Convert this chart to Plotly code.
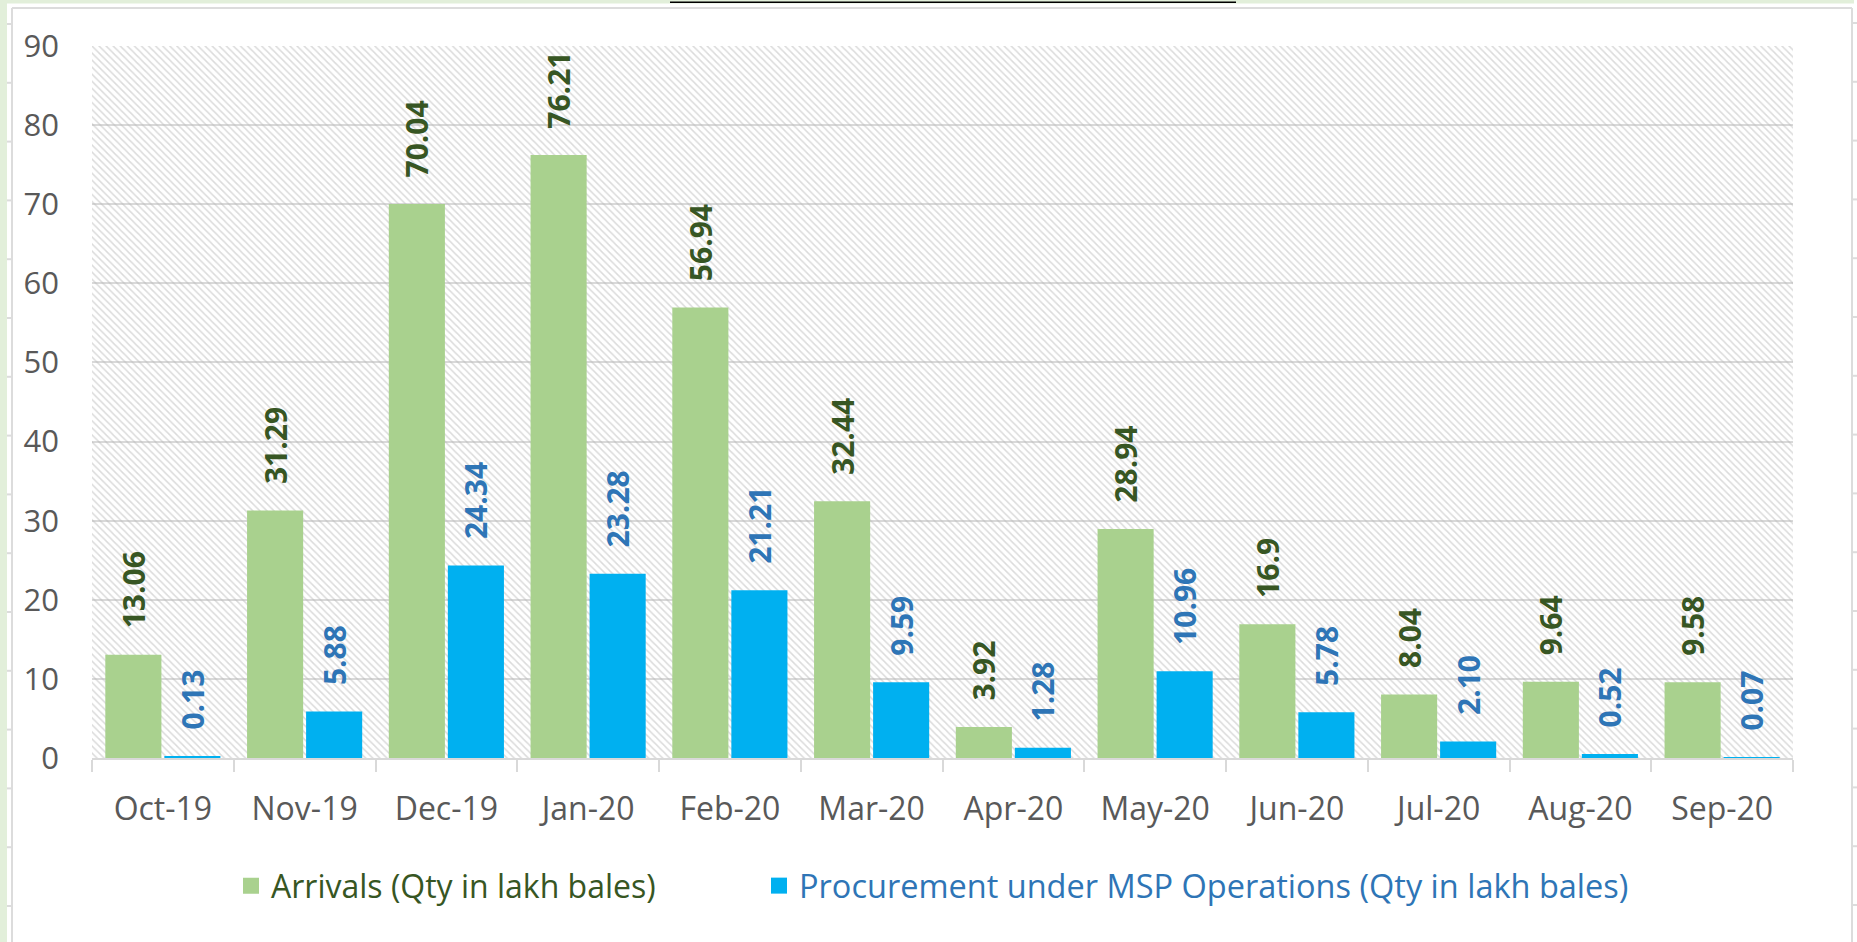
import plotly.graph_objects as go

# ---------------- data ----------------
months = ["Oct-19", "Nov-19", "Dec-19", "Jan-20", "Feb-20", "Mar-20",
          "Apr-20", "May-20", "Jun-20", "Jul-20", "Aug-20", "Sep-20"]
arrivals = [13.06, 31.29, 70.04, 76.21, 56.94, 32.44, 3.92, 28.94, 16.9, 8.04, 9.64, 9.58]
procurement = [0.13, 5.88, 24.34, 23.28, 21.21, 9.59, 1.28, 10.96, 5.78, 2.10, 0.52, 0.07]
arrivals_labels = ["13.06", "31.29", "70.04", "76.21", "56.94", "32.44",
                   "3.92", "28.94", "16.9", "8.04", "9.64", "9.58"]
procurement_labels = ["0.13", "5.88", "24.34", "23.28", "21.21", "9.59",
                      "1.28", "10.96", "5.78", "2.10", "0.52", "0.07"]
series_names = ["Arrivals (Qty in lakh bales)",
                "Procurement under MSP Operations (Qty in lakh bales)"]
y_ticks = [0, 10, 20, 30, 40, 50, 60, 70, 80, 90]

# ---------------- style ----------------
W, H = 1857, 942
L, R, T, B = 92, 64, 46, 184
PW, PH = W - L - R, H - T - B
GREEN, BLUE = "#a9d18e", "#00b0f0"
GREEN_TXT, BLUE_TXT = "#375623", "#2e75b6"
GRID = "#d9d9d9"
FONT = "Open Sans"
PAD = "\u00a0\u00a0\u00a0"


def xp(px):
    return (px - L) / PW


def yp(py):
    return (H - B - py) / PH


fig = go.Figure()

# hatched plot-area background (transparent between hatch lines so grid shows)
fig.add_trace(go.Bar(
    x=[0.5], y=[y_ticks[-1]], width=[1], xaxis="x", yaxis="y",
    marker=dict(color="rgba(0,0,0,0)", line=dict(width=0),
                pattern=dict(shape="\\", fgcolor="#b8b8b8", size=5, solidity=0.3)),
    showlegend=False, hoverinfo="skip",
))

legend_ids = ["legend", "legend2"]
for vals, labels, name, col, tcol, lg in [
    (arrivals, arrivals_labels, series_names[0], GREEN, GREEN_TXT, legend_ids[0]),
    (procurement, procurement_labels, series_names[1], BLUE, BLUE_TXT, legend_ids[1]),
]:
    fig.add_trace(go.Bar(
        x=months, y=vals, name=name, xaxis="x2", yaxis="y",
        marker=dict(color=col, line=dict(width=0)),
        text=[PAD + t for t in labels], textposition="outside", textangle=-90,
        textfont=dict(family=FONT, size=30, color=tcol, weight="bold"),
        cliponaxis=False, constraintext="none", showlegend=False,
    ))
    # legend proxy with a larger square swatch
    fig.add_trace(go.Scatter(
        x=[None], y=[None], name=name, xaxis="x2", yaxis="y", mode="markers",
        marker=dict(symbol="square", size=16, color=col),
        showlegend=True, hoverinfo="skip", legend=lg,
    ))

# ---------------- decorations (sheet edges) ----------------
shapes = []
shapes.append(dict(type="rect", xref="paper", yref="paper", x0=xp(0), x1=xp(7), y0=yp(H), y1=yp(0),
                   fillcolor="#e2efda", line=dict(width=0), layer="below"))
shapes.append(dict(type="rect", xref="paper", yref="paper", x0=xp(0), x1=xp(1854), y0=yp(3.5), y1=yp(0),
                   fillcolor="#e2efda", line=dict(width=0), layer="below"))
shapes.append(dict(type="line", xref="paper", yref="paper", x0=xp(670), x1=xp(1236), y0=yp(2.3), y1=yp(2.3),
                   line=dict(color="#000000", width=1.5)))
for x0, x1, y0, y1 in [(12, 12, 8, H), (12, 1852, 8, 8), (1852, 1852, 8, H)]:
    shapes.append(dict(type="line", xref="paper", yref="paper", x0=xp(x0), x1=xp(x1), y0=yp(y0), y1=yp(y1),
                       line=dict(color="#dcdcdc", width=2), layer="below"))
k = 0
while 24 + 58.8 * k < H:
    yy = 24 + 58.8 * k
    shapes.append(dict(type="line", xref="paper", yref="paper", x0=xp(7), x1=xp(12), y0=yp(yy), y1=yp(yy),
                       line=dict(color="#dcdcdc", width=2), layer="below"))
    shapes.append(dict(type="line", xref="paper", yref="paper", x0=xp(1852), x1=xp(W), y0=yp(yy - 1), y1=yp(yy - 1),
                       line=dict(color="#dcdcdc", width=2), layer="below"))
    k += 1

legend_common = dict(orientation="h", xanchor="left", yanchor="middle", y=yp(886),
                     bgcolor="rgba(0,0,0,0)", itemsizing="trace")

fig.update_layout(
    width=W, height=H,
    margin=dict(l=L, r=R, t=T, b=B, pad=0),
    paper_bgcolor="white", plot_bgcolor="white",
    barmode="group", bargap=0.167, bargroupgap=0.05,
    font=dict(family=FONT, color="#595959"),
    xaxis=dict(range=[0, 1], visible=False, fixedrange=True),
    xaxis2=dict(
        overlaying="x", anchor="y", side="bottom", type="category",
        categoryorder="array", categoryarray=months,
        showgrid=False, showline=True, linecolor=GRID, linewidth=2,
        ticks="outside", tickson="boundaries", ticklen=12, tickwidth=2, tickcolor=GRID,
        tickfont=dict(family=FONT, size=32, color="#595959"),
        ticklabelstandoff=22, zeroline=False,
    ),
    yaxis=dict(
        range=[0, y_ticks[-1]], tickmode="array", tickvals=y_ticks,
        showgrid=True, gridcolor=GRID, gridwidth=2, zeroline=False, showline=False,
        ticks="", tickfont=dict(family=FONT, size=31, color="#595959"),
        ticklabelstandoff=32,
    ),
    legend=dict(**legend_common, x=xp(231), font=dict(family=FONT, size=32, color=GREEN_TXT)),
    legend2=dict(**legend_common, x=xp(759), font=dict(family=FONT, size=32.5, color=BLUE_TXT)),
    shapes=shapes,
)

fig.write_html("out.html", config={"displayModeBar": False},
               post_script="document.body.style.margin='0';")
